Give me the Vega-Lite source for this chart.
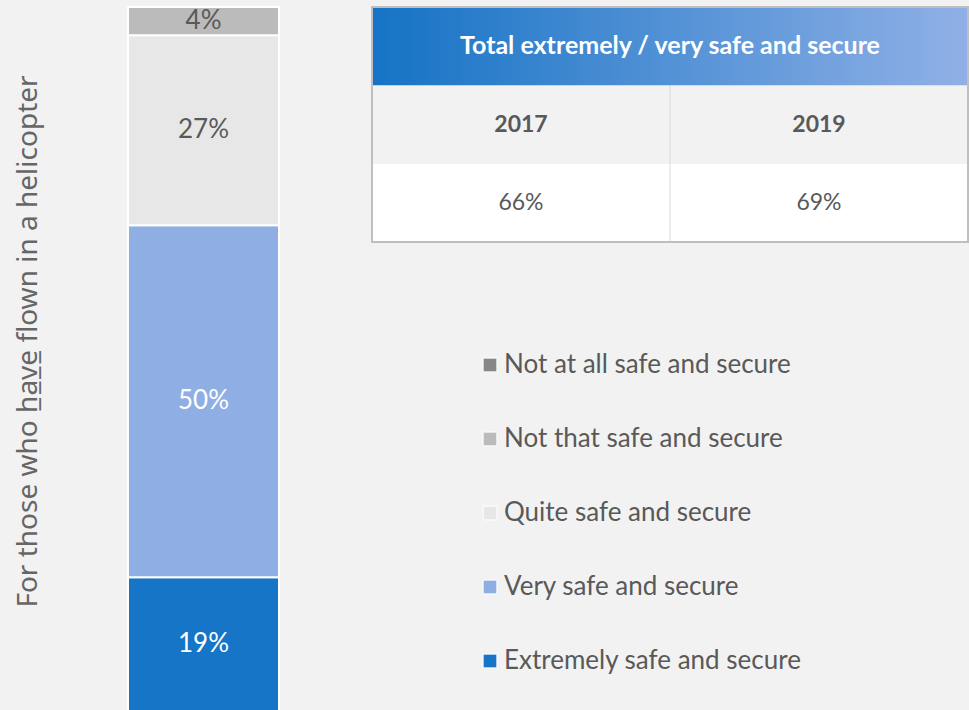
{
  "$schema": "https://vega.github.io/schema/vega-lite/v6.json",
  "background": "#f2f2f2",
  "padding": {"left": 14, "top": 6, "right": 0, "bottom": 0},
  "autosize": {"type": "pad"},
  "bounds": "flush",
  "spacing": 93,
  "config": {"font": "Lato", "view": {"stroke": null}},
  "datasets": {
    "survey": [
      {"group": "have flown", "response": "Extremely safe and secure", "share": 0.19, "rank": 1},
      {"group": "have flown", "response": "Very safe and secure", "share": 0.50, "rank": 2},
      {"group": "have flown", "response": "Quite safe and secure", "share": 0.27, "rank": 3},
      {"group": "have flown", "response": "Not that safe and secure", "share": 0.04, "rank": 4},
      {"group": "have flown", "response": "Not at all safe and secure", "share": 0.0, "rank": 5}
    ],
    "table": [
      {"row": "header", "col": null, "label": "Total extremely / very safe and secure"},
      {"row": "year", "col": "2017", "label": "2017"},
      {"row": "year", "col": "2019", "label": "2019"},
      {"row": "value", "col": "2017", "label": "66%"},
      {"row": "value", "col": "2019", "label": "69%"}
    ]
  },
  "hconcat": [
    {
      "width": 151,
      "height": 704,
      "data": {"name": "survey"},
      "encoding": {
        "x": {"field": "group", "type": "nominal", "axis": null, "scale": {"paddingInner": 0, "paddingOuter": 0}},
        "y": {
          "field": "share", "type": "quantitative", "stack": "zero",
          "scale": {"domain": [0, 1], "nice": false},
          "axis": {
            "title": "For those who h̲a̲v̲e̲ flown in a helicopter",
            "labels": false, "ticks": false, "domain": false, "grid": false,
            "titleFontSize": 28, "titleFontWeight": "normal", "titleColor": "#666666",
            "titleFont": "Noto Sans", "titlePadding": 86, "titleY": 334
          }
        }
      },
      "layer": [
        {
          "mark": {"type": "bar", "stroke": "white", "strokeWidth": 2},
          "encoding": {
            "color": {
              "field": "response", "type": "nominal",
              "scale": {
                "domain": ["Not at all safe and secure", "Not that safe and secure", "Quite safe and secure", "Very safe and secure", "Extremely safe and secure"],
                "range": ["#878787", "#bbbbbb", "#e7e7e7", "#8faee3", "#1675c6"]
              },
              "legend": {
                "orient": "none", "legendX": 349, "legendY": 345, "title": null,
                "symbolType": "square", "symbolSize": 190, "symbolStrokeWidth": 1,
                "labelFontSize": 26,
                "labelColor": "#595959", "labelFont": "Lato", "rowPadding": 48,
                "labelOffset": 1, "padding": 0, "labelLimit": 0
              }
            },
            "order": {"field": "rank", "type": "quantitative"}
          }
        },
        {
          "transform": [{"filter": "datum.share > 0"}],
          "mark": {"type": "text", "fontSize": 26, "font": "Lato"},
          "encoding": {
            "y": {"field": "share", "type": "quantitative", "stack": "zero", "bandPosition": 0.5},
            "detail": {"field": "response", "type": "nominal"},
            "order": {"field": "rank", "type": "quantitative"},
            "text": {"field": "share", "type": "quantitative", "format": ".0%"},
            "color": {"condition": {"test": "datum.rank <= 2", "value": "white"}, "value": "#595959"}
          }
        }
      ]
    },
    {
      "width": 596,
      "height": 235,
      "data": {"name": "table"},
      "layer": [
        {
          "transform": [{"filter": "datum.row != 'header'"}],
          "mark": {"type": "rect"},
          "encoding": {
            "x": {"field": "col", "type": "nominal", "axis": null, "scale": {"domain": ["2017", "2019"], "paddingInner": 0, "paddingOuter": 0}},
            "y": {"field": "row", "type": "nominal", "axis": null, "scale": {"domain": ["header", "year", "value"], "paddingInner": 0, "paddingOuter": 0}},
            "fill": {"field": "row", "type": "nominal", "scale": {"domain": ["year", "value"], "range": ["#f2f2f2", "#ffffff"]}, "legend": null}
          }
        },
        {
          "transform": [{"filter": "datum.row == 'value' && datum.col == '2019'"}],
          "mark": {"type": "rule", "color": "#d9d9d9", "strokeWidth": 1},
          "encoding": {
            "x": {"field": "col", "type": "nominal", "bandPosition": 0}
          }
        },
        {
          "transform": [{"filter": "datum.row == 'header'"}],
          "mark": {
            "type": "rect",
            "color": {"gradient": "linear", "stops": [{"offset": 0, "color": "#1573c5"}, {"offset": 1, "color": "#90b0e6"}]}
          },
          "encoding": {
            "y": {"field": "row", "type": "nominal"}
          }
        },
        {
          "transform": [{"filter": "datum.row == 'header'"}],
          "mark": {"type": "text", "color": "white", "fontWeight": "bold", "fontSize": 25, "font": "Lato"},
          "encoding": {
            "y": {"field": "row", "type": "nominal"},
            "text": {"field": "label"}
          }
        },
        {
          "transform": [{"filter": "datum.row == 'year'"}],
          "mark": {"type": "text", "color": "#595959", "fontWeight": "bold", "fontSize": 23, "font": "Lato"},
          "encoding": {
            "x": {"field": "col", "type": "nominal"},
            "y": {"field": "row", "type": "nominal"},
            "text": {"field": "label"}
          }
        },
        {
          "transform": [{"filter": "datum.row == 'value'"}],
          "mark": {"type": "text", "color": "#595959", "fontSize": 23, "font": "Lato"},
          "encoding": {
            "x": {"field": "col", "type": "nominal"},
            "y": {"field": "row", "type": "nominal"},
            "text": {"field": "label"}
          }
        },
        {
          "transform": [{"filter": "datum.row == 'header'"}],
          "mark": {"type": "rect", "filled": false, "color": "#bfbfbf", "strokeWidth": 2},
          "encoding": {}
        }
      ]
    }
  ]
}
